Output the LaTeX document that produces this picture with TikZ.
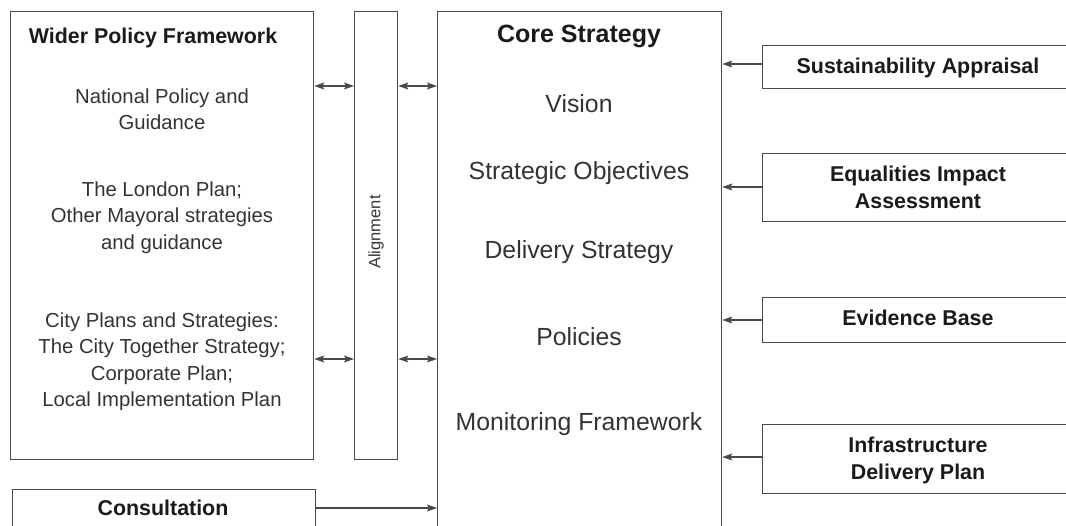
\documentclass[tikz,border=0pt]{standalone}
\usepackage{fontspec}
\setmainfont{Liberation Sans}
\usetikzlibrary{arrows.meta}
\definecolor{linec}{HTML}{4A4A4A}
\definecolor{txtc}{HTML}{333333}
\definecolor{boldc}{HTML}{1A1A1A}
\tikzset{
  box/.style={draw=linec, line width=1.3pt, anchor=north west, inner sep=0pt},
  tip/.style={},
  conn/.style={draw=linec, line width=1.1pt, -{Stealth[length=10pt,width=7pt,inset=2pt]}},
  dconn/.style={draw=linec, line width=1.1pt, {Stealth[length=10pt,width=7pt,inset=2pt]}-{Stealth[length=10pt,width=7pt,inset=2pt]}},
  ltxt/.style={text=txtc, font=\fontsize{20.3}{26.5}\selectfont, align=center, inner sep=0pt},
  ctxt/.style={text=txtc, font=\fontsize{24.8}{28}\selectfont, align=center, inner sep=0pt, anchor=base},
  btxt/.style={text=boldc, font=\bfseries\fontsize{21.4}{27}\selectfont, align=center, inner sep=0pt},
}
\begin{document}
\begin{tikzpicture}[x=1pt,y=-1pt]
\useasboundingbox (0,0) rectangle (1066,526);
% boxes
\node[box, minimum width=303pt, minimum height=448pt] (wpf) at (10,11) {};
\node[box, minimum width=43pt, minimum height=448pt] (al) at (354,11) {};
\node[box, minimum width=284pt, minimum height=600pt] (cs) at (437,11) {};
\node[box, minimum width=303pt, minimum height=100pt] (con) at (12,489) {};
\node[box, minimum width=320pt, minimum height=43pt] (sa) at (762,45) {};
\node[box, minimum width=320pt, minimum height=68pt] (eia) at (762,153) {};
\node[box, minimum width=320pt, minimum height=45pt] (eb) at (762,297) {};
\node[box, minimum width=320pt, minimum height=69pt] (idp) at (762,424) {};
% left texts
\node[btxt, anchor=base] (wpft) at (153,44) {Wider Policy Framework};
\node[ltxt] (npg) at (162,109) {National Policy and\\Guidance};
\node[ltxt] (lp) at (162,217.5) {The London Plan;\\Other Mayoral strategies\\and guidance};
\node[ltxt] (cps) at (162,362) {City Plans and Strategies:\\The City Together Strategy;\\Corporate Plan;\\Local Implementation Plan};
\node[text=txtc, font=\fontsize{16.5}{20}\selectfont, rotate=90, inner sep=0pt] (alt) at (376,232) {Alignment};
% core texts
\node[btxt, anchor=base, font=\bfseries\fontsize{25}{28}\selectfont] (cst) at (579,43) {Core Strategy};
\node[ctxt] (vis) at (579,113) {Vision};
\node[ctxt] (so) at (579,180) {Strategic Objectives};
\node[ctxt] (ds) at (579,259) {Delivery Strategy};
\node[ctxt] (pol) at (579,346) {Policies};
\node[ctxt] (mf) at (579,431) {Monitoring Framework};
% right texts
\node[btxt, anchor=base] (sat) at (918,74) {Sustainability Appraisal};
\node[btxt] (eiat) at (918,187) {Equalities Impact\\Assessment};
\node[btxt, anchor=base] (ebt) at (918,326) {Evidence Base};
\node[btxt] (idpt) at (918,460) {Infrastructure\\Delivery Plan};
\node[btxt, anchor=base] (cont) at (163,515) {Consultation};
% connectors
\coordinate (y1) at (0,86);
\coordinate (y2) at (0,359);
\draw[dconn] (wpf.east |- y1) -- (al.west |- y1);
\draw[dconn] (al.east |- y1) -- (cs.west |- y1);
\draw[dconn] (wpf.east |- y2) -- (al.west |- y2);
\draw[dconn] (al.east |- y2) -- (cs.west |- y2);
\coordinate (y3) at (0,508);
\draw[conn] (con.east |- y3) -- (cs.west |- y3);
\coordinate (r1) at (0,64);
\coordinate (r2) at (0,187);
\coordinate (r3) at (0,320);
\coordinate (r4) at (0,457);
\draw[conn] (sa.west |- r1) -- (cs.east |- r1);
\draw[conn] (eia.west |- r2) -- (cs.east |- r2);
\draw[conn] (eb.west |- r3) -- (cs.east |- r3);
\draw[conn] (idp.west |- r4) -- (cs.east |- r4);
\end{tikzpicture}
\end{document}
